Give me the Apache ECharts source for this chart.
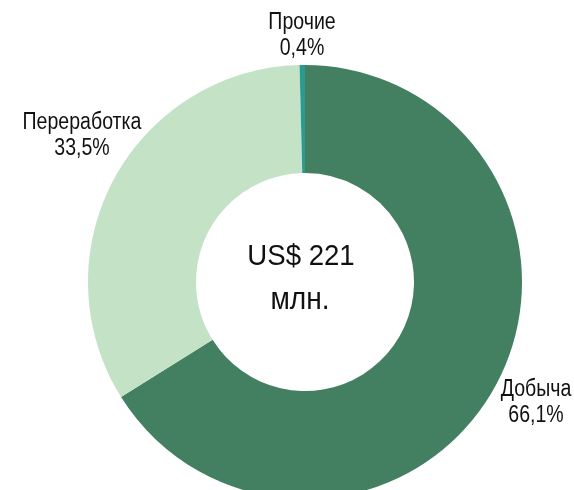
<!DOCTYPE html>
<html><head><meta charset="utf-8">
<script src="https://cdn.jsdelivr.net/npm/echarts@6/dist/echarts.min.js"></script>
<style>html,body{margin:0;padding:0;background:#fff}#c{width:574px;height:490px}</style>
</head><body><div id="c"></div>
<script>
const categories = ['Добыча', 'Переработка', 'Прочие'];
const values = [66.1, 33.5, 0.4];
const labelTexts = ['66,1%', '33,5%', '0,4%'];
const colors = ['#437f61', '#c4e2c6', '#2b9a92'];
const labelPos = [[536, 390], [82, 123], [302, 23]];
const centerLines = ['US$ 221', 'млн.'];
const FONT = '"Liberation Sans", Arial, sans-serif';
const NARROW = 0.85;

const chart = echarts.init(document.getElementById('c'), null, {renderer: 'canvas'});

const labelGraphics = [];
categories.forEach((c, i) => {
  [c, labelTexts[i]].forEach((t, j) => {
    labelGraphics.push({
      type: 'text', x: labelPos[i][0], y: labelPos[i][1] + j * 26, scaleX: NARROW,
      silent: true,
      style: {text: t, font: '23px ' + FONT, fill: '#111', textAlign: 'center', textVerticalAlign: 'middle'}
    });
  });
});

chart.setOption({
  animation: false,
  series: [{
    type: 'pie',
    center: [305, 282],
    radius: [109, 217],
    startAngle: 90,
    clockwise: true,
    avoidLabelOverlap: false,
    itemStyle: {borderWidth: 0},
    label: {show: false},
    labelLine: {show: false},
    emphasis: {disabled: true},
    data: categories.map((c, i) => ({name: c, value: values[i], itemStyle: {color: colors[i]}}))
  }],
  graphic: labelGraphics.concat([
    {type: 'text', x: 301, y: 257, scaleX: 0.92, silent: true, style: {text: centerLines[0], font: '30px ' + FONT, fill: '#111', textAlign: 'center', textVerticalAlign: 'middle'}},
    {type: 'text', x: 300, y: 300, scaleX: 0.88, silent: true, style: {text: centerLines[1], font: '32px ' + FONT, fill: '#111', textAlign: 'center', textVerticalAlign: 'middle'}}
  ])
});
</script></body></html>
